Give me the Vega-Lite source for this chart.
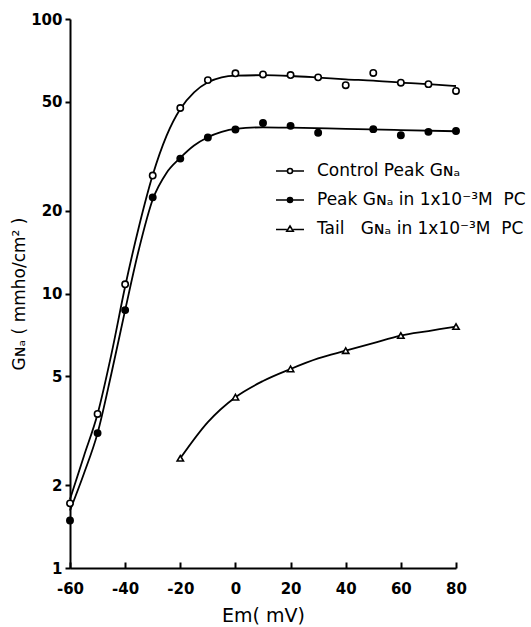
{
  "$schema": "https://vega.github.io/schema/vega-lite/v6.json",
  "width": 386,
  "height": 549,
  "autosize": "none",
  "padding": {"left": 70, "top": 19, "right": 75, "bottom": 59},
  "background": "white",
  "config": {
    "view": {"stroke": null},
    "font": "DejaVu Sans",
    "axis": {
      "grid": false,
      "domainColor": "black",
      "domainWidth": 2,
      "tickColor": "black",
      "tickWidth": 2,
      "labelColor": "black",
      "labelFontSize": 15,
      "labelFontWeight": "bold",
      "titleColor": "black",
      "titleFontSize": 17,
      "titleFontWeight": "normal"
    }
  },
  "datasets": {
    "points": [
      {"series": "control", "em": -60, "g": 1.72},
      {"series": "control", "em": -50, "g": 3.64},
      {"series": "control", "em": -40, "g": 10.8},
      {"series": "control", "em": -30, "g": 26.9},
      {"series": "control", "em": -20, "g": 47.4},
      {"series": "control", "em": -10, "g": 59.9},
      {"series": "control", "em": 0, "g": 63.4},
      {"series": "control", "em": 10, "g": 62.8},
      {"series": "control", "em": 20, "g": 62.5},
      {"series": "control", "em": 30, "g": 61.3},
      {"series": "control", "em": 40, "g": 57.4},
      {"series": "control", "em": 50, "g": 63.6},
      {"series": "control", "em": 60, "g": 58.6},
      {"series": "control", "em": 70, "g": 57.9},
      {"series": "control", "em": 80, "g": 54.7},
      {"series": "peak", "em": -60, "g": 1.49},
      {"series": "peak", "em": -50, "g": 3.1},
      {"series": "peak", "em": -40, "g": 8.7},
      {"series": "peak", "em": -30, "g": 22.4},
      {"series": "peak", "em": -20, "g": 31.0},
      {"series": "peak", "em": -10, "g": 37.0},
      {"series": "peak", "em": 0, "g": 39.6},
      {"series": "peak", "em": 10, "g": 41.8},
      {"series": "peak", "em": 20, "g": 40.8},
      {"series": "peak", "em": 30, "g": 38.5},
      {"series": "peak", "em": 50, "g": 39.7},
      {"series": "peak", "em": 60, "g": 37.7},
      {"series": "peak", "em": 70, "g": 38.8},
      {"series": "peak", "em": 80, "g": 39.1},
      {"series": "tail", "em": -20, "g": 2.51},
      {"series": "tail", "em": 0, "g": 4.19},
      {"series": "tail", "em": 20, "g": 5.31},
      {"series": "tail", "em": 40, "g": 6.19},
      {"series": "tail", "em": 60, "g": 7.03},
      {"series": "tail", "em": 80, "g": 7.58}
    ],
    "curves": [
      {"series": "control", "em": -60, "g": 1.78},
      {"series": "control", "em": -55, "g": 2.55},
      {"series": "control", "em": -50, "g": 3.64},
      {"series": "control", "em": -45, "g": 6.0},
      {"series": "control", "em": -40, "g": 10.6},
      {"series": "control", "em": -35, "g": 17.5},
      {"series": "control", "em": -30, "g": 27.0},
      {"series": "control", "em": -25, "g": 37.5},
      {"series": "control", "em": -20, "g": 47.0},
      {"series": "control", "em": -15, "g": 54.0},
      {"series": "control", "em": -10, "g": 58.8},
      {"series": "control", "em": -5, "g": 61.3},
      {"series": "control", "em": 0, "g": 62.2},
      {"series": "control", "em": 10, "g": 62.4},
      {"series": "control", "em": 20, "g": 62.0},
      {"series": "control", "em": 30, "g": 61.2},
      {"series": "control", "em": 40, "g": 60.3},
      {"series": "control", "em": 50, "g": 59.6},
      {"series": "control", "em": 60, "g": 58.6},
      {"series": "control", "em": 70, "g": 57.9},
      {"series": "control", "em": 80, "g": 57.0},
      {"series": "peak", "em": -60, "g": 1.62},
      {"series": "peak", "em": -55, "g": 2.2},
      {"series": "peak", "em": -50, "g": 3.1},
      {"series": "peak", "em": -45, "g": 5.1},
      {"series": "peak", "em": -40, "g": 8.7},
      {"series": "peak", "em": -35, "g": 14.5},
      {"series": "peak", "em": -30, "g": 22.0},
      {"series": "peak", "em": -25, "g": 27.5},
      {"series": "peak", "em": -20, "g": 31.2},
      {"series": "peak", "em": -15, "g": 34.6},
      {"series": "peak", "em": -10, "g": 37.1},
      {"series": "peak", "em": -5, "g": 38.8},
      {"series": "peak", "em": 0, "g": 39.8},
      {"series": "peak", "em": 10, "g": 40.3},
      {"series": "peak", "em": 20, "g": 40.2},
      {"series": "peak", "em": 40, "g": 39.8},
      {"series": "peak", "em": 60, "g": 39.4},
      {"series": "peak", "em": 80, "g": 39.0},
      {"series": "tail", "em": -20, "g": 2.51},
      {"series": "tail", "em": -10, "g": 3.4},
      {"series": "tail", "em": 0, "g": 4.19},
      {"series": "tail", "em": 10, "g": 4.8},
      {"series": "tail", "em": 20, "g": 5.31},
      {"series": "tail", "em": 30, "g": 5.8},
      {"series": "tail", "em": 40, "g": 6.19},
      {"series": "tail", "em": 50, "g": 6.6},
      {"series": "tail", "em": 60, "g": 7.03},
      {"series": "tail", "em": 70, "g": 7.3},
      {"series": "tail", "em": 80, "g": 7.58}
    ]
  },
  "encoding": {
    "x": {
      "field": "em",
      "type": "quantitative",
      "scale": {"domain": [-60, 80], "nice": false, "zero": false},
      "axis": {
        "values": [-60, -40, -20, 0, 20, 40, 60, 80],
        "tickSize": -6,
        "labelPadding": 19,
        "labelFlush": false,
        "labelExpr": "'' + datum.value",
        "title": "Em( mV)",
        "titleFontSize": 19,
        "titlePadding": 10
      }
    },
    "y": {
      "field": "g",
      "type": "quantitative",
      "scale": {"type": "log", "domain": [1, 100], "nice": false},
      "axis": {
        "values": [1, 2, 5, 10, 20, 50, 100],
        "format": "d",
        "tickSize": 5,
        "labelPadding": 3,
        "labelFlush": false,
        "title": "Gɴₐ ( mmho/cm² )",
        "titlePadding": 2
      }
    }
  },
  "resolve": {
    "scale": {"shape": "independent", "fill": "independent", "stroke": "independent"},
    "legend": {"shape": "independent", "fill": "independent", "stroke": "independent"}
  },
  "layer": [
    {
      "data": {"name": "curves"},
      "mark": {"type": "line", "interpolate": "monotone", "color": "black", "strokeWidth": 1.8},
      "encoding": {"detail": {"field": "series"}}
    },
    {
      "data": {"name": "points"},
      "mark": {"type": "point", "filled": true, "stroke": "black", "strokeWidth": 1.6, "opacity": 1},
      "encoding": {
        "shape": {
          "field": "series",
          "type": "nominal",
          "scale": {"domain": ["control", "peak", "tail"], "range": ["circle", "circle", "triangle-up"]},
          "legend": null
        },
        "fill": {
          "field": "series",
          "type": "nominal",
          "scale": {"domain": ["control", "peak", "tail"], "range": ["white", "black", "white"]},
          "legend": null
        },
        "size": {
          "field": "series",
          "type": "nominal",
          "scale": {"domain": ["control", "peak", "tail"], "range": [40, 40, 70]},
          "legend": null
        }
      }
    },
    {
      "data": {"name": "points"},
      "transform": [{"filter": "false"}],
      "mark": {"type": "point", "filled": false, "strokeWidth": 1.6, "opacity": 1},
      "encoding": {
        "shape": {
          "field": "series",
          "type": "nominal",
          "scale": {
            "domain": ["control", "peak", "tail"],
            "range": [
              "M-1.4,0H-0.25M0.25,0H1.4M0.25,0A0.25,0.25,0,1,1,-0.25,0A0.25,0.25,0,1,1,0.25,0Z",
              "M-1.4,0H-0.25M0.25,0H1.4M0.25,0A0.25,0.25,0,1,1,-0.25,0A0.25,0.25,0,1,1,0.25,0Z",
              "M-1.4,0.05H-0.32M0.32,0.05H1.4M0,-0.3L0.32,0.22L-0.32,0.22Z"
            ]
          },
          "legend": {
            "orient": "none",
            "legendX": 209,
            "legendY": 141,
            "title": null,
            "labelFontSize": 17,
            "labelColor": "black",
            "labelOffset": 16,
            "labelLimit": 400,
            "rowPadding": 10,
            "symbolSize": 400,
            "symbolStrokeWidth": 1.6,
            "labelExpr": "datum.value == 'control' ? 'Control Peak Gɴₐ' : datum.value == 'peak' ? 'Peak Gɴₐ in 1x10⁻³M\u00a0\u00a0PC' : 'Tail\u00a0\u00a0\u00a0Gɴₐ in 1x10⁻³M\u00a0\u00a0PC'"
          }
        },
        "fill": {
          "field": "series",
          "type": "nominal",
          "scale": {"domain": ["control", "peak", "tail"], "range": ["white", "black", "white"]}
        },
        "stroke": {
          "field": "series",
          "type": "nominal",
          "scale": {"domain": ["control", "peak", "tail"], "range": ["black", "black", "black"]}
        }
      }
    }
  ]
}
